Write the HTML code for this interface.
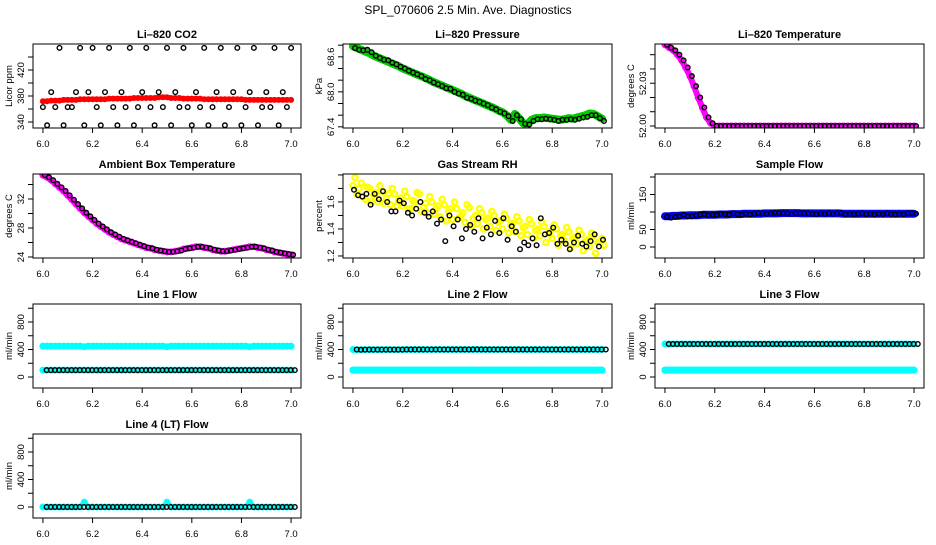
<!DOCTYPE html>
<html><head><meta charset="utf-8"><style>
html,body{margin:0;padding:0;background:#fff}
svg text{font-family:"Liberation Sans",sans-serif;fill:#000}
</style></head><body>
<svg id="chart" width="936" height="540" xmlns="http://www.w3.org/2000/svg">
<rect width="936" height="540" fill="#fff"/>
<text x="468" y="14" font-size="12" text-anchor="middle">SPL_070606  2.5 Min. Ave. Diagnostics</text>
</svg>
<script>
const xTicks=[6.0,6.2,6.4,6.6,6.8,7.0];
const xTickLabels=["6.0","6.2","6.4","6.6","6.8","7.0"];
const co2Black=[363,335,386,363,454,335,363,363,386,454,335,386,454,363,335,386,454,363,335,386,363,454,335,363,386,454,363,335,386,363,454,335,386,363,454,363,335,386,363,454,335,363,386,454,335,363,386,454,335,363,386,454,335,363,386,363,454,335,386,363,454];
const co2Red=[372,372,373,373,373,374,374,374,374,375,375,375,375,375,375,375,376,376,376,376,376,376,377,377,377,377,377,377,378,378,378,377,377,377,376,376,376,376,376,375,375,375,375,375,375,375,375,375,375,374,374,374,374,374,374,374,374,374,374,374,374];
const presGreen=[68.78,68.75,68.72,68.69,68.66,68.62,68.59,68.56,68.53,68.5,68.47,68.44,68.4,68.37,68.34,68.31,68.28,68.25,68.22,68.18,68.15,68.12,68.09,68.06,68.03,68.0,67.97,67.93,67.9,67.87,67.84,67.81,67.78,67.75,67.72,67.68,67.65,67.6,67.52,67.62,67.55,67.46,67.44,67.52,67.55,67.55,67.56,67.55,67.54,67.53,67.52,67.53,67.55,67.54,67.56,67.58,67.6,67.63,67.62,67.58,67.54];
const presBlack=[68.75,68.72,68.71,68.72,68.68,68.62,68.58,68.55,68.54,68.5,68.47,68.43,68.4,68.36,68.33,68.3,68.27,68.22,68.2,68.16,68.13,68.1,68.06,68.05,68.0,67.97,67.95,67.9,67.88,67.85,67.83,67.8,67.77,67.73,67.7,67.66,67.63,67.58,67.5,67.6,67.53,67.45,67.44,67.5,67.53,67.53,67.54,67.53,67.52,67.5,67.52,67.52,67.53,67.52,67.54,67.56,67.57,67.6,67.6,67.55,67.5];
const tempMag=[52.057,52.055,52.053,52.05,52.046,52.041,52.035,52.028,52.02,52.013,52.006,52.002,52.0,52.0,52.0,52.0,52.0,52.0,52.0,52.0,52.0,52.0,52.0,52.0,52.0,52.0,52.0,52.0,52.0,52.0,52.0,52.0,52.0,52.0,52.0,52.0,52.0,52.0,52.0,52.0,52.0,52.0,52.0,52.0,52.0,52.0,52.0,52.0,52.0,52.0,52.0,52.0,52.0,52.0,52.0,52.0,52.0,52.0,52.0,52.0,52.0];
const ambMag=[35.3,35.0,34.6,34.1,33.6,33.1,32.5,31.9,31.3,30.7,30.1,29.6,29.1,28.6,28.2,27.8,27.4,27.1,26.8,26.5,26.3,26.1,25.9,25.7,25.5,25.3,25.2,25.0,24.9,24.8,24.7,24.7,24.8,24.9,25.1,25.2,25.3,25.4,25.4,25.3,25.2,25.0,24.9,24.8,24.8,24.9,25.0,25.1,25.2,25.3,25.4,25.4,25.3,25.2,25.0,24.9,24.7,24.6,24.5,24.4,24.3];
const rhY1=[1.72,1.66,1.74,1.62,1.70,1.65,1.60,1.68,1.63,1.58,1.66,1.61,1.57,1.64,1.55,1.60,1.66,1.56,1.52,1.60,1.55,1.49,1.58,1.53,1.47,1.55,1.50,1.45,1.56,1.48,1.44,1.52,1.47,1.42,1.50,1.45,1.40,1.48,1.43,1.38,1.46,1.41,1.36,1.44,1.39,1.35,1.42,1.37,1.33,1.40,1.35,1.31,1.38,1.33,1.29,1.36,1.31,1.27,1.35,1.30,1.33];
const rhY2=[1.78,1.70,1.64,1.71,1.60,1.67,1.72,1.59,1.66,1.70,1.57,1.63,1.68,1.55,1.61,1.67,1.53,1.59,1.64,1.51,1.57,1.62,1.46,1.55,1.60,1.48,1.52,1.58,1.42,1.50,1.55,1.40,1.48,1.53,1.39,1.46,1.51,1.37,1.44,1.49,1.35,1.42,1.47,1.33,1.40,1.45,1.30,1.38,1.43,1.28,1.36,1.41,1.26,1.34,1.39,1.24,1.32,1.37,1.22,1.30,1.28];
const rhBlack=[1.69,1.65,1.64,1.66,1.58,1.66,1.62,1.68,1.60,1.53,1.53,1.61,1.59,1.52,1.50,1.55,1.60,1.52,1.49,1.53,1.44,1.47,1.31,1.50,1.42,1.47,1.33,1.40,1.43,1.38,1.48,1.33,1.41,1.36,1.46,1.37,1.48,1.32,1.42,1.38,1.25,1.30,1.28,1.33,1.28,1.48,1.36,1.37,1.41,1.29,1.32,1.29,1.25,1.30,1.35,1.29,1.27,1.31,1.36,1.27,1.32];
const flowBlue=[88,88,89,89,90,90,91,91,91,92,92,92,92,93,93,93,94,94,94,95,95,95,95,95,96,96,96,96,97,97,97,97,97,96,96,96,96,96,96,96,96,96,96,95,95,95,95,95,95,95,95,95,95,95,95,95,95,95,95,95,95];
const flowBlack=[86,84,86,88,92,88,88,90,93,94,91,92,92,95,94,93,96,94,92,95,93,95,97,96,95,96,98,97,97,96,95,96,96,97,96,95,94,96,95,96,95,96,97,94,95,94,95,96,94,95,93,95,94,96,94,93,95,94,96,97,95];
const l1Cyan=[450,450,450,450,450,450,450,450,450,450,440,450,450,450,450,450,450,450,450,450,450,450,450,450,450,450,450,450,450,450,440,450,450,450,450,450,450,450,450,450,450,450,450,450,450,450,450,450,450,450,440,450,450,450,450,450,450,450,450,450,450];
const l1Low=[100,100,100,100,100,100,100,100,100,100,100,100,100,100,100,100,100,100,100,100,100,100,100,100,100,100,100,100,100,100,100,100,100,100,100,100,100,100,100,100,100,100,100,100,100,100,100,100,100,100,100,100,100,100,100,100,100,100,100,100,100];
const l2Black=[400,395,398,398,398,398,398,398,398,398,398,398,400,400,400,400,400,400,400,400,400,400,400,400,400,400,400,400,400,402,400,400,400,400,400,400,400,400,400,400,400,400,400,400,400,400,400,400,400,400,400,400,400,400,400,400,400,400,400,400,400];
const l3Black=[480,480,480,480,480,480,480,480,480,480,480,480,480,480,480,480,480,480,480,480,480,480,480,480,480,480,480,480,480,480,480,480,480,480,480,480,480,480,480,480,480,480,480,480,480,480,480,480,480,480,480,480,480,480,480,480,480,480,480,480,480];
const l4Black=[0,0,0,0,0,0,0,0,0,0,0,0,0,0,0,0,0,0,0,0,0,0,0,0,0,0,0,0,0,0,0,0,0,0,0,0,0,0,0,0,0,0,0,0,0,0,0,0,0,0,0,0,0,0,0,0,0,0,0,0,0];
const l4Cyan=[0,0,0,0,0,0,0,0,0,0,70,0,0,0,0,0,0,0,0,0,0,0,0,0,0,0,0,0,0,0,70,0,0,0,0,0,0,0,0,0,0,0,0,0,0,0,0,0,0,0,70,0,0,0,0,0,0,0,0,0,0];

const NS="http://www.w3.org/2000/svg";
const svg=document.getElementById('chart');
function el(tag,attrs,parent){const e=document.createElementNS(NS,tag);for(const k in attrs)e.setAttribute(k,attrs[k]);(parent||svg).appendChild(e);return e;}
const cols=[[33,301],[343,612],[655,924]];
const rows=[[44,128],[174,258],[304,388],[434,518]];

function panel(o){
  const [x0,x1]=cols[o.c],[y0,y1]=rows[o.r];
  const g=el('g',{});
  
  
  const xs=v=>x0+(v-5.96)/(1.08)*(x1-x0);
  const ys=v=>y1-(v-o.ymin)/(o.ymax-o.ymin)*(y1-y0);
  const clip='clip'+o.c+o.r;
  const cp=el('clipPath',{id:clip},g);el('rect',{x:x0,y:y0,width:x1-x0,height:y1-y0},cp);
  const pg=el('g',{'clip-path':'url(#'+clip+')'},g);
  const tOf=(i,n)=>6+i/(n-1);
  o.series.forEach(s=>{
    const n=s.v.length;
    if(s.band){
      const pts=s.v.map((v,i)=>xs(tOf(i,n)).toFixed(1)+','+ys(v).toFixed(1)).join(' ');
      const pl=el('polyline',{points:pts,fill:'none',stroke:s.col,'stroke-width':s.band,'stroke-linejoin':'round','stroke-linecap':'round'},pg);
      
      
    }
    s.v.forEach((v,i)=>{
      const c=el('circle',{cx:xs(tOf(i,n)+(s.off||0)).toFixed(1),cy:ys(v).toFixed(1),r:s.r||2.3,fill:'none',stroke:s.col,'stroke-width':s.sw||1.4},pg);
      
      
    });
  });
  el('rect',{x:x0,y:y0,width:x1-x0,height:y1-y0,fill:'none',stroke:'#000','stroke-width':1},g);
  xTicks.forEach((t,i)=>{
    const x=xs(t);
    el('line',{x1:x,x2:x,y1:y1,y2:y1+5,stroke:'#000'},g);
    const tx=el('text',{x:x,y:y1+19,'font-size':9.5,'text-anchor':'middle'},g);tx.textContent=xTickLabels[i];
    
    
  });
  o.yt.forEach(t=>{
    const y=ys(t);
    el('line',{x1:x0-5,x2:x0,y1:y,y2:y,stroke:'#000'},g);
  });
  o.yl.forEach((lab,i)=>{
    const y=ys(o.ylv[i]);
    const tx=el('text',{x:0,y:0,'font-size':9.5,'text-anchor':'middle',transform:`translate(${x0-9},${y}) rotate(-90)`},g);
    tx.textContent=lab;
    
    
  });
  const yt=el('text',{x:0,y:0,'font-size':9.5,'text-anchor':'middle',transform:`translate(${x0-21},${(y0+y1)/2}) rotate(-90)`},g);
  yt.textContent=o.ytitle;
  
  
  const tt=el('text',{x:(x0+x1)/2,y:y0-6,'font-size':11,'font-weight':'bold','text-anchor':'middle'},g);
  tt.textContent=o.title;
  
  
}
const rng=(a,b,s)=>{const r=[];for(let v=a;v<=b+1e-9;v+=s)r.push(+v.toFixed(4));return r;};
const flowTicks=[0,200,400,600,800,1000];
panel({name:'co2-panel',c:0,r:0,title:'Li\u2013820 CO2',ytitle:'Licor ppm',ymin:330.8,ymax:460,yt:rng(340,440,20),yl:['340','380','420'],ylv:[340,380,420],
 series:[{name:'co2-red',v:co2Red,col:'#ff0000',band:5,r:2,sw:2},{name:'co2-black',v:co2Black,col:'#000'}]});
panel({name:'pressure-panel',c:1,r:0,title:'Li\u2013820 Pressure',ytitle:'kPa',ymin:67.38,ymax:68.82,yt:rng(67.4,68.8,0.2),yl:['67.4','68.0','68.6'],ylv:[67.4,68.0,68.6],
 series:[{name:'pressure-green',v:presGreen,col:'#00cc00',band:8,r:2.5,sw:2},{name:'pressure-black',v:presBlack,col:'#000',off:0.008}]});
panel({name:'licor-temp-panel',c:2,r:0,title:'Li\u2013820 Temperature',ytitle:'degrees C',ymin:51.9986,ymax:52.0575,yt:rng(52.0,52.05,0.01),yl:['52.00','52.03'],ylv:[52.0,52.03],
 series:[{name:'temp-magenta',v:tempMag,col:'#ff00ff',band:6,r:2.5,sw:2},{name:'temp-black',v:tempMag,col:'#000',off:0.008}]});
panel({name:'ambient-temp-panel',c:0,r:1,title:'Ambient Box Temperature',ytitle:'degrees C',ymin:23.86,ymax:35.45,yt:rng(24,34,2),yl:['24','28','32'],ylv:[24,28,32],
 series:[{name:'ambient-magenta',v:ambMag,col:'#ff00ff',band:6,r:2.5,sw:2},{name:'ambient-black',v:ambMag,col:'#000',off:0.008}]});
panel({name:'rh-panel',c:1,r:1,title:'Gas Stream RH',ytitle:'percent',ymin:1.185,ymax:1.807,yt:rng(1.2,1.8,0.1),yl:['1.2','1.4','1.6'],ylv:[1.2,1.4,1.6],
 series:[{name:'rh-yellow-a',v:rhY1,col:'#ffff00',r:2.6,sw:2.4},{name:'rh-yellow-b',v:rhY2,col:'#ffff00',r:2.6,sw:2.4,off:0.008},{name:'rh-black',v:rhBlack,col:'#000',off:0.004}]});
panel({name:'sample-flow-panel',c:2,r:1,title:'Sample Flow',ytitle:'ml/min',ymin:-31.4,ymax:208.6,yt:[0,50,100,150,200],yl:['0','50','150'],ylv:[0,50,150],
 series:[{name:'flow-blue',v:flowBlue,col:'#0000ff',band:8,r:2.5,sw:2},{name:'flow-black',v:flowBlack,col:'#000',off:0.008}]});
const fmin=-160,fmax=1062;
panel({name:'line1-panel',c:0,r:2,title:'Line 1 Flow',ytitle:'ml/min',ymin:fmin,ymax:fmax,yt:flowTicks,yl:['0','400','800'],ylv:[0,400,800],
 series:[{name:'line1-cyan-high',v:l1Cyan,col:'#00ffff',band:6,r:2.5,sw:2},{name:'line1-cyan-low',v:l1Low,col:'#00ffff',band:6,r:2.5,sw:2},{name:'line1-black',v:l1Low,col:'#000',off:0.015}]});
panel({name:'line2-panel',c:1,r:2,title:'Line 2 Flow',ytitle:'ml/min',ymin:fmin,ymax:fmax,yt:flowTicks,yl:['0','400','800'],ylv:[0,400,800],
 series:[{name:'line2-cyan-high',v:l2Black,col:'#00ffff',band:6,r:2.5,sw:2},{name:'line2-cyan-low',v:l1Low,col:'#00ffff',band:7,r:2.5,sw:2},{name:'line2-black',v:l2Black,col:'#000',off:0.015}]});
panel({name:'line3-panel',c:2,r:2,title:'Line 3 Flow',ytitle:'ml/min',ymin:fmin,ymax:fmax,yt:flowTicks,yl:['0','400','800'],ylv:[0,400,800],
 series:[{name:'line3-cyan-high',v:l3Black,col:'#00ffff',band:6,r:2.5,sw:2},{name:'line3-cyan-low',v:l1Low,col:'#00ffff',band:7,r:2.5,sw:2},{name:'line3-black',v:l3Black,col:'#000',off:0.015}]});
panel({name:'line4-panel',c:0,r:3,title:'Line 4 (LT) Flow',ytitle:'ml/min',ymin:fmin,ymax:fmax,yt:flowTicks,yl:['0','400','800'],ylv:[0,400,800],
 series:[{name:'line4-cyan',v:l4Cyan,col:'#00ffff',band:5,r:2.5,sw:2},{name:'line4-black',v:l4Black,col:'#000',off:0.015}]});
</script>
</body></html>
